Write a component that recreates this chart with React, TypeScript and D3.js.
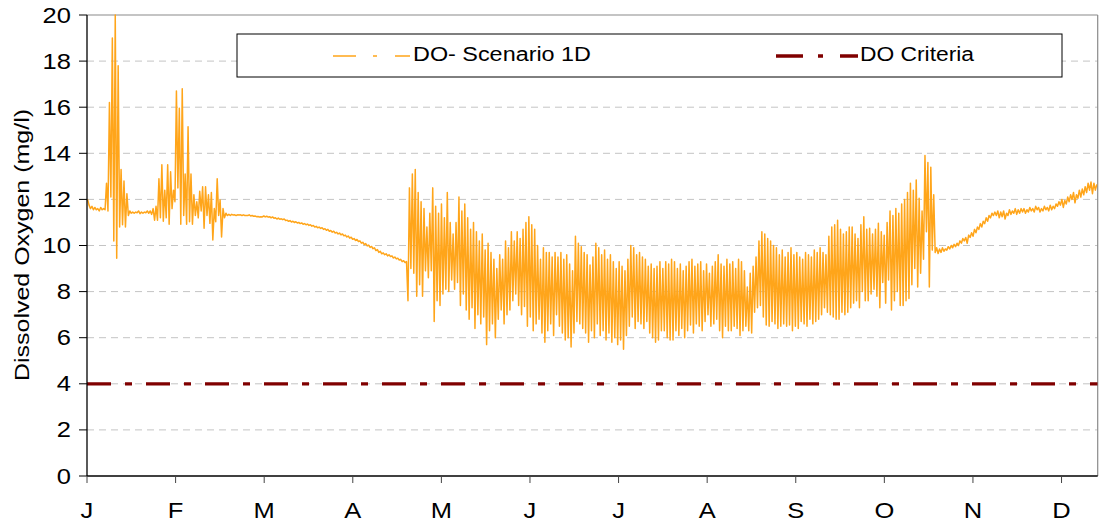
import React from 'react';
import * as d3 from 'd3';

// ---------- data ----------
const monthLabels = ['J', 'F', 'M', 'A', 'M', 'J', 'J', 'A', 'S', 'O', 'N', 'D'];
const yTickValues = [0, 2, 4, 6, 8, 10, 12, 14, 16, 18, 20];
const criteriaValue = 4;
const axisDays = 347;
const daysPerMonth = 365 / 12;

// days 0-59 (morning / afternoon readings of each day)
const janFebDawn = [
  12.0, 11.6, 11.55, 11.55, 11.5, 11.55, 11.55, 11.5, 12.1, 10.2,
  9.45, 10.8, 10.9, 10.8, 11.3, 11.4, 11.4, 11.42, 11.38, 11.4,
  11.42, 11.4, 11.35, 11.1, 11.1, 11.2, 11.05, 11.2, 10.92, 11.6,
  11.9, 12.5, 10.92, 11.3, 10.92, 11.03, 10.92, 11.3, 11.2, 11.5,
  10.75, 11.3, 10.96, 10.24, 11.03, 11.3, 10.37, 11.2, 11.3, 11.3,
  11.32, 11.3, 11.32, 11.3, 11.3, 11.3, 11.28, 11.27, 11.25, 11.24,
];
const janFebDusk = [
  11.75, 11.7, 11.65, 11.6, 11.65, 11.6, 12.7, 16.2, 19.0, 20.0,
  17.8, 13.3, 12.8, 12.25, 11.5, 11.45, 11.45, 11.5, 11.45, 11.45,
  11.5, 11.5, 11.6, 11.7, 12.9, 13.5, 12.4, 13.5, 13.2, 12.4,
  16.7, 15.95, 16.8, 13.1, 15.15, 13.1, 12.2, 11.9, 12.35, 12.55,
  12.55, 12.2, 12.3, 11.6, 12.9, 11.97, 11.6, 11.4, 11.35, 11.35,
  11.33, 11.33, 11.33, 11.33, 11.3, 11.33, 11.3, 11.28, 11.26, 11.25,
];
// days 60-109
const springDawn = [
  11.24, 11.24, 11.23, 11.2, 11.18, 11.15, 11.14, 11.12, 11.08, 11.05,
  11.02, 11.0, 10.98, 10.95, 10.92, 10.9, 10.87, 10.84, 10.8, 10.77,
  10.74, 10.7, 10.66, 10.62, 10.58, 10.54, 10.5, 10.46, 10.42, 10.37,
  10.32, 10.27, 10.22, 10.17, 10.1, 10.04, 9.98, 9.92, 9.86, 9.78,
  9.7, 9.64, 9.6, 9.55, 9.52, 9.46, 9.42, 9.37, 9.3, 9.26,
];
const springDusk = [
  11.28, 11.27, 11.25, 11.24, 11.2, 11.19, 11.16, 11.15, 11.1, 11.08,
  11.05, 11.03, 11.0, 10.98, 10.95, 10.93, 10.9, 10.87, 10.83, 10.8,
  10.77, 10.73, 10.7, 10.65, 10.62, 10.57, 10.54, 10.5, 10.45, 10.41,
  10.36, 10.3, 10.26, 10.2, 10.14, 10.08, 10.02, 9.96, 9.9, 9.82,
  9.75, 9.68, 9.64, 9.6, 9.55, 9.5, 9.45, 9.4, 9.34, 9.3,
];
// days 110-290
const summerDawn = [
  7.6, 9.0, 8.8, 7.8, 8.3, 7.8, 8.9, 8.6, 8.9, 6.7,
  7.6, 7.4, 7.9, 8.1, 8.0, 8.5, 8.1, 8.4, 7.4, 7.9,
  7.2, 6.8, 7.3, 6.4, 7.0, 6.6, 6.9, 5.7, 6.3, 6.6,
  6.0, 6.8, 7.2, 6.6, 7.0, 7.2, 7.6, 7.9, 7.4, 7.0,
  7.35, 6.5, 6.9, 6.3, 6.6, 6.8, 6.2, 5.8, 6.3, 6.6,
  6.1, 7.0, 6.5, 6.2, 5.9, 6.0, 5.6, 6.2, 6.7, 6.6,
  6.4, 6.2, 5.8, 6.3, 6.0, 6.6, 6.1, 6.3, 5.9, 6.2,
  5.8, 6.0, 5.7, 5.9, 5.5, 6.1, 6.5, 6.9, 6.4, 6.7,
  6.6, 6.4, 6.7, 6.2, 6.0, 5.8, 5.9, 6.3, 6.3, 6.0,
  5.9, 5.9, 6.3, 6.1, 6.4, 6.0, 6.3, 6.55, 6.2, 6.6,
  6.5, 6.3, 6.7, 7.0, 6.5, 6.6, 6.8, 6.3, 6.0, 6.5,
  6.3, 6.3, 6.5, 6.4, 6.1, 6.3, 6.5, 6.3, 6.2, 7.1,
  7.3, 7.4, 6.9, 6.55, 6.5, 6.7, 6.6, 6.4, 6.5, 6.6,
  6.5, 6.55, 6.3, 6.5, 6.4, 6.7, 6.6, 6.5, 6.8, 6.6,
  6.7, 6.8, 7.0, 7.3, 7.1, 7.0, 6.9, 6.8, 6.8, 7.1,
  7.0, 7.1, 7.3, 7.5, 7.6, 7.3, 8.0, 7.6, 7.6, 7.9,
  8.1, 7.8, 7.3, 8.4, 7.5, 8.5, 7.2, 7.6, 8.0, 7.4,
  7.4, 7.6, 7.7, 8.3, 9.0, 8.2, 8.8, 9.4, 10.6, 8.2, 9.8,
];
const summerDusk = [
  12.5, 13.1, 13.3, 12.3, 11.9, 11.6, 10.8, 11.4, 12.5, 11.7,
  11.4, 11.8, 11.2, 12.3, 11.0, 10.5, 11.0, 12.1, 11.5, 11.8,
  11.2, 10.7, 11.0, 10.6, 10.2, 10.5, 9.8, 10.1, 9.7, 9.4,
  9.0, 9.6, 9.4, 10.2, 9.9, 10.6, 10.2, 10.6, 10.3, 10.7,
  11.0, 11.25, 10.9, 10.7, 10.0, 9.4, 9.9, 9.7, 9.7, 9.5,
  9.7, 9.5, 9.7, 9.4, 9.6, 9.2, 8.9, 10.4, 10.1, 9.95,
  9.7, 9.6, 9.15, 9.5, 10.1, 9.9, 9.6, 9.8, 9.4, 9.6,
  9.3, 9.0, 9.3, 9.1, 8.9, 9.4, 10.0, 9.9, 9.6, 9.7,
  9.5, 9.4, 9.1, 9.2, 9.0, 9.1, 9.3, 9.0, 9.3, 9.2,
  9.4, 9.3, 9.0, 9.2, 8.9, 9.1, 9.3, 9.4, 9.1, 9.2,
  9.3, 8.9, 9.2, 8.8, 9.1, 9.3, 9.6, 9.2, 9.1, 9.4,
  9.2, 9.3, 9.0, 9.4, 9.3, 8.9, 8.2, 8.8, 9.1, 9.5,
  10.2, 10.6, 10.5, 10.3, 10.2, 10.0, 9.9, 9.6, 9.8, 9.5,
  9.7, 9.9, 9.6, 9.7, 9.5, 9.4, 9.7, 9.6, 9.5, 9.8,
  9.7, 9.9, 9.7, 9.6, 10.4, 10.8, 10.9, 11.1, 10.7, 10.5,
  10.6, 10.8, 10.8, 10.5, 10.3, 10.9, 11.25, 10.7, 10.75, 10.5,
  10.7, 10.96, 10.6, 10.45, 11.0, 11.5, 11.3, 11.6, 11.4, 11.8,
  12.0, 12.3, 12.7, 12.4, 12.84, 12.05, 11.5, 13.9, 13.6, 13.4, 12.2,
];
// days 291-346
const autumnDawn = [
  9.7, 9.65, 9.7, 9.75, 9.8, 9.85, 9.9, 9.95, 10.0, 10.1,
  10.2, 10.1, 10.35, 10.4, 10.55, 10.7, 10.8, 10.95, 11.05, 11.2,
  11.3, 11.3, 11.2, 11.25, 11.15, 11.3, 11.35, 11.4, 11.35, 11.4,
  11.45, 11.4, 11.45, 11.5, 11.45, 11.55, 11.45, 11.5, 11.55, 11.5,
  11.55, 11.6, 11.7, 11.75, 11.65, 11.8, 11.9, 12.0, 11.85, 12.05,
  12.1, 12.2, 12.3, 12.4, 12.25, 12.4,
];
const autumnDusk = [
  9.9, 9.85, 9.9, 9.85, 9.95, 10.0, 10.05, 10.1, 10.2, 10.3,
  10.35, 10.45, 10.55, 10.7, 10.8, 10.95, 11.05, 11.2, 11.3, 11.4,
  11.45, 11.5, 11.45, 11.5, 11.4, 11.55, 11.5, 11.6, 11.55, 11.6,
  11.6, 11.55, 11.65, 11.6, 11.7, 11.65, 11.6, 11.7, 11.65, 11.75,
  11.7, 11.8, 11.9, 12.0, 11.95, 12.1, 12.2, 12.3, 12.2, 12.4,
  12.45, 12.55, 12.7, 12.75, 12.7, 12.65,
];

// ---------- layout ----------
const W = 1099;
const H = 527;
const plot = { left: 87, right: 1097.7, top: 15, bottom: 476 };
const FONT = '"Liberation Sans", Arial, Helvetica, sans-serif';
const STRETCH = 1.16;

function SText(props: {
  x: number; y: number; text: string; size: number; anchor?: string; fill?: string; length?: number;
}) {
  const { x, y, text, size, anchor = 'start', fill = '#000', length } = props;
  return (
    <text
      transform={`translate(${x},${y}) scale(${STRETCH},1)`}
      fontFamily={FONT}
      fontSize={size}
      textAnchor={anchor}
      fill={fill}
      {...(length ? { textLength: length / STRETCH, lengthAdjust: 'spacingAndGlyphs' } : {})}
    >
      {text}
    </text>
  );
}

export default function App() {
  const x = d3.scaleLinear().domain([0, axisDays]).range([plot.left, plot.right]);
  const y = d3.scaleLinear().domain([0, 20]).range([plot.bottom, plot.top]);

  const dawn = [...janFebDawn, ...springDawn, ...summerDawn, ...autumnDawn];
  const dusk = [...janFebDusk, ...springDusk, ...summerDusk, ...autumnDusk];
  const pts: [number, number][] = [];
  dawn.forEach((v, i) => {
    pts.push([i + 0.2, v]);
    pts.push([i + 0.7, dusk[i]]);
  });
  const line = d3.line<[number, number]>().x((d) => x(d[0])).y((d) => y(d[1]));
  const doPath = line(pts) || '';
  const critPath = line([[0, criteriaValue], [axisDays, criteriaValue]]) || '';

  const monthTicks = monthLabels.map((m, i) => ({ m, pos: x(i * daysPerMonth) }));

  return (
    <svg
      width={W}
      height={H}
      style={{ position: 'fixed', left: 0, top: 0, background: '#fff' }}
    >
      <rect x={0} y={0} width={W} height={H} fill="#fff" />
      <defs>
        <clipPath id="plotClip">
          <rect x={plot.left} y={plot.top - 1} width={plot.right - plot.left} height={plot.bottom - plot.top + 1} />
        </clipPath>
      </defs>

      {/* gridlines */}
      {yTickValues.filter((v) => v > 0 && v < 20).map((v) => (
        <line key={v} x1={plot.left} x2={plot.right} y1={y(v)} y2={y(v)}
          stroke="#c4c4c4" strokeWidth={1} strokeDasharray="7 5" />
      ))}

      {/* plot frame */}
      <line x1={plot.left} x2={plot.right} y1={plot.top} y2={plot.top} stroke="#8a8a8a" strokeWidth={1.2} />
      <line x1={plot.right} x2={plot.right} y1={plot.top} y2={plot.bottom} stroke="#8a8a8a" strokeWidth={1.2} />

      {/* series */}
      <g clipPath="url(#plotClip)">
        <path d={doPath} fill="none" stroke="#FFA51A" strokeWidth={1.5}
          strokeLinejoin="round" />
        <path d={critPath} fill="none" stroke="#800000" strokeWidth={3.2}
          strokeDasharray="24 14 7 14" />
      </g>

      {/* axes */}
      <line x1={plot.left} x2={plot.left} y1={plot.top} y2={plot.bottom} stroke="#000" strokeWidth={1.3} />
      <line x1={plot.left} x2={plot.right} y1={plot.bottom} y2={plot.bottom} stroke="#000" strokeWidth={1.3} />
      {yTickValues.map((v) => (
        <g key={v}>
          <line x1={plot.left - 8} x2={plot.left} y1={y(v)} y2={y(v)} stroke="#000" strokeWidth={1} />
          <SText x={71} y={y(v) + 7.5} text={String(v)} size={22} anchor="end" />
        </g>
      ))}
      {monthTicks.map((t, i) => (
        <g key={i}>
          <line x1={t.pos} x2={t.pos} y1={plot.bottom} y2={plot.bottom + 7} stroke="#444" strokeWidth={1} />
          <SText x={t.pos} y={518} text={t.m} size={22} anchor="middle" />
        </g>
      ))}

      {/* y axis title */}
      <text
        transform="translate(29,245) rotate(-90)"
        fontFamily={FONT}
        fontSize={20}
        textAnchor="middle"
        fill="#000"
        textLength={272}
        lengthAdjust="spacingAndGlyphs"
      >
        Dissolved Oxygen (mg/l)
      </text>

      {/* legend */}
      <rect x={237} y={34} width={825} height={43} fill="#fff" stroke="#000" strokeWidth={1} />
      <line x1={333} x2={410} y1={56} y2={56} stroke="#FFA51A" strokeWidth={1.5} strokeDasharray="23 17 4 18" />
      <SText x={413} y={61} text="DO- Scenario 1D" size={20} length={178} />
      <line x1={776} x2={858} y1={56} y2={56} stroke="#800000" strokeWidth={3.5} strokeDasharray="27 15 5 17" />
      <SText x={860} y={61} text="DO Criteria" size={20} length={114} />
    </svg>
  );
}
